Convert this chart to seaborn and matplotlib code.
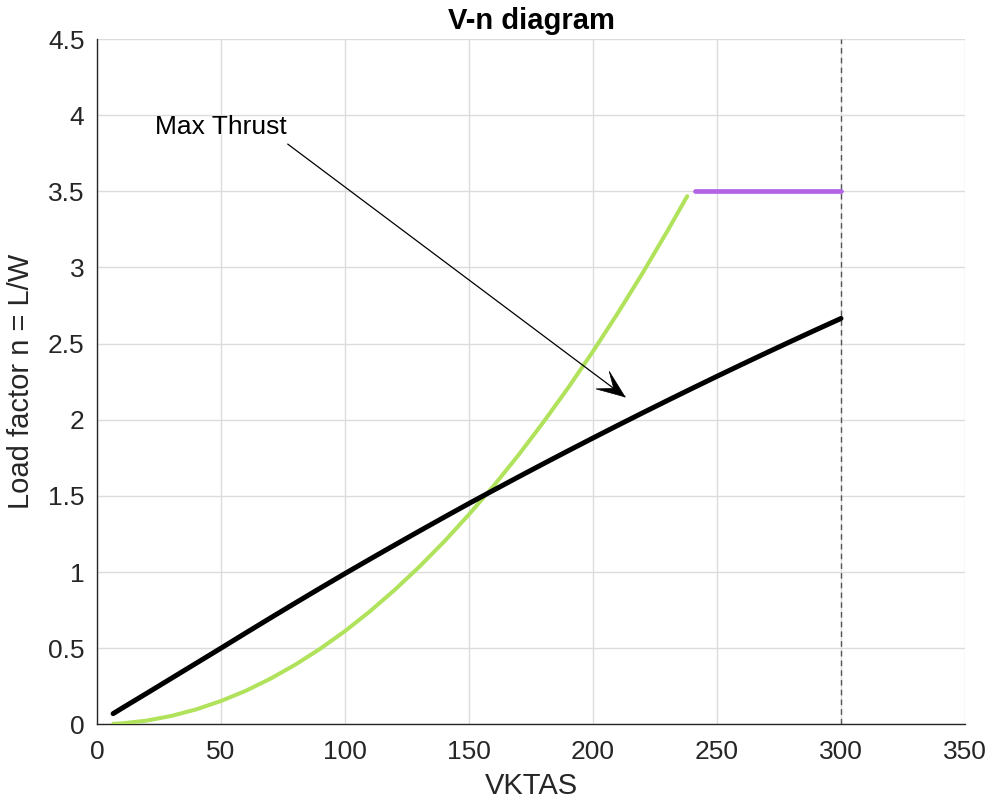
import numpy as np
import matplotlib
matplotlib.use("Agg")
import matplotlib.pyplot as plt
from matplotlib.patches import Polygon
import seaborn as sns

# Maneuver (lift-limited) load factor vs. true airspeed
speed_lift = [6.5, 10, 20, 30, 40, 50, 60, 70, 80, 90, 100, 110, 120, 130, 140,
              150, 160, 170, 180, 190, 200, 210, 220, 230, 238]
n_lift = [0.003, 0.006, 0.024, 0.055, 0.098, 0.153, 0.220, 0.300, 0.392, 0.496,
          0.612, 0.741, 0.882, 1.035, 1.200, 1.378, 1.567, 1.769, 1.984, 2.210,
          2.449, 2.700, 2.963, 3.239, 3.468]

# Thrust-limited load factor vs. true airspeed
speed_thrust = [6.5, 10, 20, 30, 40, 50, 60, 70, 80, 90, 100, 110, 120, 130, 140,
                150, 160, 170, 180, 190, 200, 210, 220, 230, 240, 250, 260, 270,
                280, 290, 300]
n_thrust = [0.070, 0.105, 0.203, 0.302, 0.401, 0.500, 0.600, 0.699, 0.797, 0.894,
            0.990, 1.084, 1.177, 1.269, 1.360, 1.450, 1.538, 1.625, 1.711, 1.796,
            1.880, 1.963, 2.045, 2.126, 2.206, 2.285, 2.363, 2.440, 2.516, 2.591,
            2.665]

# Structural limit load factor
speed_limit = [241, 300]
n_limit = [3.5, 3.5]

# Dive speed
v_dive = 300

x_ticks = [0, 50, 100, 150, 200, 250, 300, 350]
x_tick_labels = ["0", "50", "100", "150", "200", "250", "300", "350"]
y_ticks = [0, 0.5, 1, 1.5, 2, 2.5, 3, 3.5, 4, 4.5]
y_tick_labels = ["0", "0.5", "1", "1.5", "2", "2.5", "3", "3.5", "4", "4.5"]

sns.set_theme(style="whitegrid")
plt.rcParams["font.family"] = ["Liberation Sans", "DejaVu Sans"]

ink = "#262626"
fig = plt.figure(figsize=(9.92, 8.05), dpi=100)
ax = fig.add_axes([97 / 992, 1 - 724.3 / 805, (965 - 97) / 992, (724.3 - 39) / 805])
ax.set_facecolor("white")

line_kw = dict(estimator=None, ax=ax, solid_joinstyle="round")
sns.lineplot(x=speed_lift, y=n_lift, color="#b1e25c", linewidth=2.9,
             zorder=3, **line_kw)
sns.lineplot(x=speed_thrust, y=n_thrust, color="black", linewidth=3.6,
             zorder=4, **line_kw)
sns.lineplot(x=speed_limit, y=n_limit, color="#b264e4", linewidth=3.4,
             zorder=3, **line_kw)
ax.axvline(v_dive, color="#555555", linestyle=(0, (4, 3)), linewidth=1.0, zorder=2)

ax.set_xlim(0, 350)
ax.set_ylim(0, 4.5)
ax.set_xticks(x_ticks)
ax.set_xticklabels(x_tick_labels)
ax.set_yticks(y_ticks)
ax.set_yticklabels(y_tick_labels)

ax.grid(True, color="#dcdcdc", linewidth=1.0)
for side in ("top", "right"):
    ax.spines[side].set_visible(False)
for side in ("left", "bottom"):
    ax.spines[side].set_visible(True)
    ax.spines[side].set_color(ink)
    ax.spines[side].set_linewidth(1.0)
ax.tick_params(axis="both", direction="in", length=6, width=1.0, color=ink,
               labelcolor=ink, labelsize=19)
ax.tick_params(axis="x", pad=11)
ax.tick_params(axis="y", pad=9)

ax.set_title("V-n diagram", fontsize=21, fontweight="bold", color="black", pad=7)
ax.set_xlabel("VKTAS", fontsize=21, color=ink, labelpad=6)
ax.set_ylabel("Load factor n = L/W", fontsize=21, color=ink, labelpad=9)

# Annotation: text, thin shaft and a notched arrow head
tail = (76.9, 3.81)
tip = (212.9, 2.15)
ax.text(23.2, 3.92, "Max Thrust", fontsize=19, color="black", va="center", ha="left")
ax.plot([tail[0], tip[0]], [tail[1], tip[1]], color="black", linewidth=0.9, zorder=5)

p_tail = ax.transData.transform(tail)
p_tip = ax.transData.transform(tip)
u = (p_tip - p_tail) / np.linalg.norm(p_tip - p_tail)
nrm = np.array([-u[1], u[0]])
head_len, half_w, notch = 28, 11, 14
pts = np.array([
    p_tip,
    p_tip - head_len * u + half_w * nrm,
    p_tip - notch * u,
    p_tip - head_len * u - half_w * nrm,
])
head = Polygon(ax.transData.inverted().transform(pts), closed=True,
               facecolor="black", edgecolor="black", linewidth=0.5, zorder=6)
ax.add_patch(head)

fig.savefig("out.png", dpi=100, facecolor="white")
